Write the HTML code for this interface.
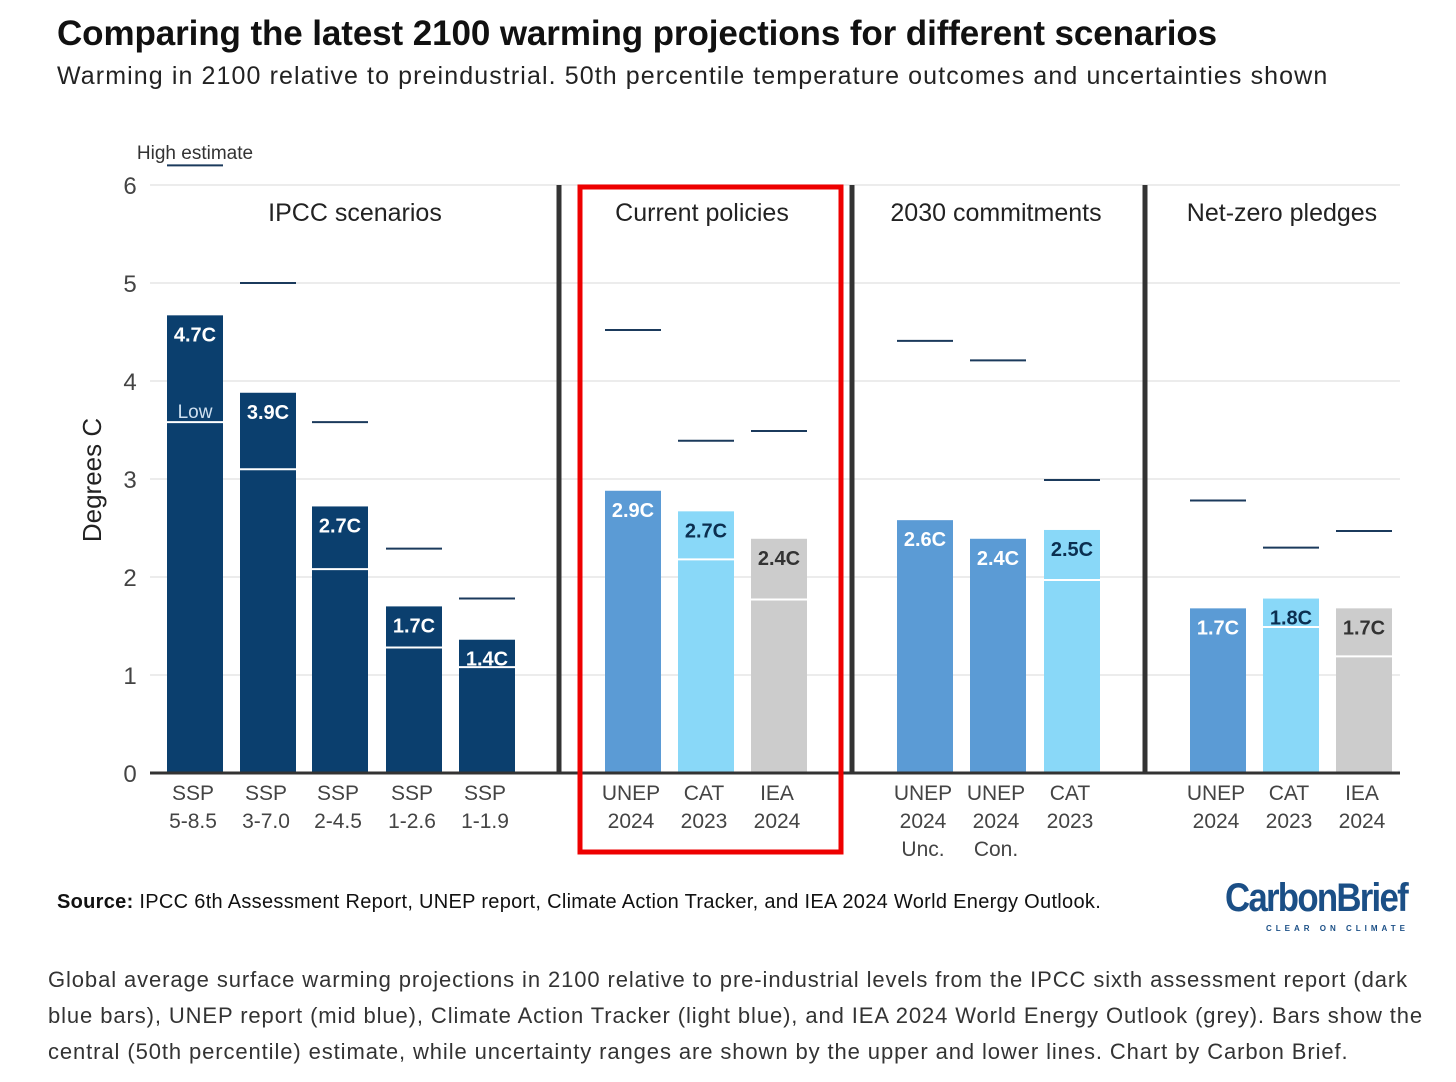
<!DOCTYPE html>
<html><head><meta charset="utf-8">
<style>
body{margin:0;background:#fff;font-family:"Liberation Sans",sans-serif;}
#wrap{position:relative;width:1456px;height:1082px;overflow:hidden;}
</style></head>
<body>
<div id="wrap">
<div style="position:absolute;left:57px;top:14px;font-size:35px;font-weight:bold;color:#111;letter-spacing:-0.1px;">Comparing the latest 2100 warming projections for different scenarios</div>
<div style="position:absolute;left:57px;top:62px;font-size:25px;color:#222;letter-spacing:1.1px;">Warming in 2100 relative to preindustrial. 50th percentile temperature outcomes and uncertainties shown</div>
<svg id="chart" width="1456" height="880" style="position:absolute;left:0;top:0"></svg>
<div style="position:absolute;left:57px;top:891px;font-size:20px;color:#111;letter-spacing:0.3px;"><b>Source:</b> IPCC 6th Assessment Report, UNEP report, Climate Action Tracker, and IEA 2024 World Energy Outlook.</div>
<div style="position:absolute;left:1225px;top:876px;font-size:40px;font-weight:bold;color:#1b4f86;letter-spacing:-2px;transform:scaleX(0.87);transform-origin:left;">CarbonBrief</div>
<div style="position:absolute;left:1266px;top:924px;font-size:8px;font-weight:bold;color:#1b4f86;letter-spacing:4px;">CLEAR ON CLIMATE</div>
<div style="position:absolute;left:48px;top:962px;white-space:nowrap;font-size:22px;line-height:36px;color:#333;letter-spacing:0.9px;">Global average surface warming projections in 2100 relative to pre-industrial levels from the IPCC sixth assessment report (dark<br>blue bars), UNEP report (mid blue), Climate Action Tracker (light blue), and IEA 2024 World Energy Outlook (grey). Bars show the<br>central (50th percentile) estimate, while uncertainty ranges are shown by the upper and lower lines. Chart by Carbon Brief.</div>
</div>
<script>
const categories=["SSP 5-8.5","SSP 3-7.0","SSP 2-4.5","SSP 1-2.6","SSP 1-1.9","UNEP 2024","CAT 2023","IEA 2024","UNEP 2024 Unc.","UNEP 2024 Con.","CAT 2023","UNEP 2024","CAT 2023","IEA 2024"];
const centralValues=[4.7,3.9,2.7,1.7,1.4,2.9,2.7,2.4,2.6,2.4,2.5,1.7,1.8,1.7];
const barHeights=[4.67,3.88,2.72,1.70,1.36,2.88,2.67,2.39,2.58,2.39,2.48,1.68,1.78,1.68];
const lowValues=[3.58,3.1,2.08,1.28,1.08,null,2.18,1.77,null,null,1.97,null,1.49,1.19];
const highValues=[6.2,5.0,3.58,2.29,1.78,4.52,3.39,3.49,4.41,4.21,2.99,2.78,2.3,2.47];
const sources=["ipcc","ipcc","ipcc","ipcc","ipcc","unep","cat","iea","unep","unep","cat","unep","cat","iea"];
const yTicks=[0,1,2,3,4,5,6];
const panels=["IPCC scenarios","Current policies","2030 commitments","Net-zero pledges"];
const svg=document.getElementById('chart');const NS="http://www.w3.org/2000/svg";
const y=v=>773-v*98;
const barX=[167,240,312,386,459,605,678,751,897,970,1044,1190,1263,1336];
const colors={ipcc:"#0b3f6e",unep:"#5b9bd5",cat:"#89d8f8",iea:"#cccccc"};
const txtCol={ipcc:"#fff",unep:"#fff",cat:"#0b2f50",iea:"#333"};
function el(t,a,name){const e=document.createElementNS(NS,t);for(const k in a)e.setAttribute(k,a[k]);


svg.appendChild(e);return e;}
yTicks.forEach(t=>{
 if(t>0)el('line',{x1:150,x2:1400,y1:y(t),y2:y(t),stroke:"#e6e6e6","stroke-width":1.5},'gridline-'+t);
 const tx=el('text',{x:130,y:y(t)+9,"font-size":24,fill:"#444","text-anchor":"middle"},'y-tick-'+t);tx.textContent=t;});
const yl=el('text',{transform:"translate(101,480) rotate(-90)","font-size":26,fill:"#222","text-anchor":"middle"},'y-axis-title');yl.textContent="Degrees C";
const W=56;
categories.forEach((c,i)=>{
 const x=barX[i],s=sources[i];
 el('rect',{x:x,y:y(barHeights[i]),width:W,height:y(0)-y(barHeights[i]),fill:colors[s]},'bar-'+i);
 if(lowValues[i]!=null)el('line',{x1:x,x2:x+W,y1:y(lowValues[i]),y2:y(lowValues[i]),stroke:"#fff","stroke-width":2},'low-line-'+i);
 el('line',{x1:x,x2:x+W,y1:y(highValues[i]),y2:y(highValues[i]),stroke:"#1b3a5c","stroke-width":2},'high-line-'+i);
 const v=el('text',{x:x+W/2,y:y(barHeights[i])+26,"font-size":20,"font-weight":"bold",fill:txtCol[s],"text-anchor":"middle"},'value-label-'+i);v.textContent=centralValues[i].toFixed(1)+"C";
 const parts=c.split(" ");
 parts.forEach((p,j)=>{const t=el('text',{x:x+W/2-2,y:800+j*28,"font-size":21,fill:"#444","text-anchor":"middle"},'x-label-'+i+'-'+j);t.textContent=p;});
});
const lo=el('text',{x:195,y:418,"font-size":19,fill:"#cfe0f0","text-anchor":"middle"},'low-legend-label');lo.textContent="Low";
const he=el('text',{x:195,y:159,"font-size":19,fill:"#333","text-anchor":"middle"},'high-legend-label');he.textContent="High estimate";
el('line',{x1:150,x2:1400,y1:y(0),y2:y(0),stroke:"#333","stroke-width":3},'x-axis');
[559,852,1145].forEach((d,i)=>el('line',{x1:d,x2:d,y1:185,y2:773,stroke:"#333","stroke-width":5},'panel-divider-'+i));
[[355,panels[0]],[702,panels[1]],[996,panels[2]],[1282,panels[3]]].forEach((p,i)=>{const t=el('text',{x:p[0],y:221,"font-size":25,fill:"#222","text-anchor":"middle"},'panel-title-'+i);t.textContent=p[1];});
el('rect',{x:580,y:187,width:261,height:665,fill:"none",stroke:"#ee0000","stroke-width":5},'highlight-box');
</script>
</body></html>
